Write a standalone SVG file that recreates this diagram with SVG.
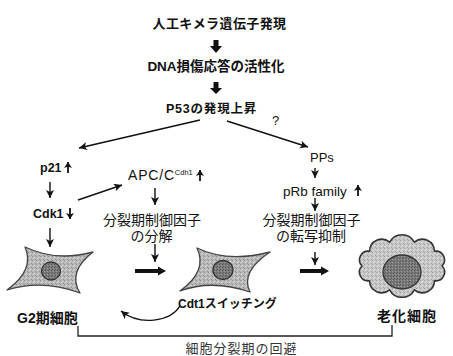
<svg xmlns="http://www.w3.org/2000/svg" width="453" height="356" viewBox="0 0 453 356">
  <style>
    text { font-family: "Liberation Sans", "Noto Sans CJK JP", sans-serif; fill: #111; }
    .b { font-weight: bold; }
    .jp { font-size: 14px; }
    .thin { fill: none; stroke: #111; stroke-width: 1.4; marker-end: url(#head); }
    .mini { fill: none; stroke: #111; stroke-width: 1.8; marker-end: url(#miniHead); }
    .fat { fill: #111; }
    .cell { fill: url(#grain); stroke: #444; stroke-width: 1.3; stroke-linejoin: round; }
    .cloud { fill: url(#grainLight); stroke: #333; stroke-width: 1.6; stroke-linejoin: round; }
    .nuc { fill: url(#grainDark); stroke: #333; stroke-width: 1.3; }
  </style>
  <defs>
    <marker id="head" markerUnits="userSpaceOnUse" markerWidth="10" markerHeight="10" refX="8" refY="4" orient="auto">
      <path d="M0,0 L8,4 L0,8 L2,4 z" fill="#111"/>
    </marker>
    <marker id="miniHead" markerUnits="userSpaceOnUse" markerWidth="10" markerHeight="10" refX="6" refY="4" orient="auto">
      <path d="M0,0 L6,4 L0,8 L1.5,4 z" fill="#111"/>
    </marker>
    <pattern id="grain" width="4" height="4" patternUnits="userSpaceOnUse">
      <rect width="4" height="4" fill="#b8b8b8"/>
      <rect x="0" y="0" width="1" height="1" fill="#909090"/>
      <rect x="2" y="1" width="1" height="1" fill="#d8d8d8"/>
      <rect x="1" y="2" width="1" height="1" fill="#d2d2d2"/>
      <rect x="3" y="3" width="1" height="1" fill="#949494"/>
    </pattern>
    <pattern id="grainLight" width="4" height="4" patternUnits="userSpaceOnUse">
      <rect width="4" height="4" fill="#c6c6c6"/>
      <rect x="0" y="0" width="1" height="1" fill="#a0a0a0"/>
      <rect x="2" y="1" width="1" height="1" fill="#e2e2e2"/>
      <rect x="1" y="2" width="1" height="1" fill="#dcdcdc"/>
      <rect x="3" y="3" width="1" height="1" fill="#a6a6a6"/>
    </pattern>
    <pattern id="grainDark" width="3" height="3" patternUnits="userSpaceOnUse">
      <rect width="3" height="3" fill="#7a7a7a"/>
      <rect x="0" y="0" width="1" height="1" fill="#5a5a5a"/>
      <rect x="2" y="1" width="1" height="1" fill="#9a9a9a"/>
      <rect x="1" y="2" width="1" height="1" fill="#606060"/>
    </pattern>
  </defs>

  <!-- top cascade -->
  <g id="n-chimera">
    <text class="b" x="219.5" y="28" font-size="13" letter-spacing="0.4" text-anchor="middle">人工キメラ遺伝子発現</text>
  </g>
  <g id="n-dna">
    <text class="b" x="216" y="71" font-size="13.5" text-anchor="middle">DNA損傷応答の活性化</text>
  </g>
  <g id="n-p53">
    <text class="b" x="211.5" y="113" font-size="12.5" letter-spacing="0.8" text-anchor="middle">P53の発現上昇</text>
  </g>
  <g id="n-question">
    <text x="272" y="125" font-size="13">?</text>
  </g>

  <!-- left branch -->
  <g id="n-p21">
    <text class="b" x="40" y="172" font-size="12.5">p21</text>
  </g>
  <g id="n-cdk1">
    <text class="b" x="33" y="218" font-size="12.5">Cdk1</text>
  </g>
  <g id="n-apc">
    <text x="128" y="180" font-size="14" letter-spacing="0.8">APC/C<tspan font-size="7.5" letter-spacing="0" dy="-5">Cdh1</tspan></text>
  </g>
  <g id="n-degrade">
    <text class="jp" x="152" y="225" text-anchor="middle">分裂期制御因子</text>
    <text class="jp" x="151.5" y="241" text-anchor="middle">の分解</text>
  </g>

  <!-- right branch -->
  <g id="n-pps">
    <text x="310" y="162" font-size="13">PPs</text>
  </g>
  <g id="n-prb">
    <text x="283" y="196" font-size="13.5">pRb family</text>
  </g>
  <g id="n-repress">
    <text class="jp" x="311.5" y="225" text-anchor="middle">分裂期制御因子</text>
    <text class="jp" x="311" y="241" text-anchor="middle">の転写抑制</text>
  </g>

  <!-- cells -->
  <g id="n-g2cell">
    <path class="cell" d="M25,247 Q56,262 93,252 Q67,272 80,293 Q42,279 7,290 Q35,270 25,247 z"/>
    <ellipse class="nuc" cx="51" cy="271" rx="9.5" ry="9"/>
    <text class="b" x="17" y="323" font-size="14">G2期細胞</text>
  </g>
  <g id="n-midcell">
    <path class="cell" d="M197,248 Q228,263 270,252 Q240,272 250,292 Q212,279 180,291 Q208,271 197,248 z"/>
    <ellipse class="nuc" cx="223" cy="270" rx="10" ry="9.5"/>
    <text class="b" x="178" y="308" font-size="12">Cdt1スイッチング</text>
  </g>
  <g id="n-senescent">
    <path class="cloud" d="M442,266 A8.7,8.7 0 0 1 434.4,280.7 A12.1,12.1 0 0 1 414.4,289.8 A14,14 0 0 1 389.6,289.8 A12.1,12.1 0 0 1 369.6,280.7 A8.7,8.7 0 0 1 362,266 A8.7,8.7 0 0 1 369.6,251.3 A12.1,12.1 0 0 1 389.6,242.2 A14,14 0 0 1 414.4,242.2 A12.1,12.1 0 0 1 434.4,251.3 A8.7,8.7 0 0 1 442,266 z"/>
    <ellipse class="nuc" cx="402" cy="272" rx="19" ry="17"/>
    <text class="b" x="377" y="321" font-size="14" letter-spacing="1">老化細胞</text>
  </g>
  <g id="n-avoid">
    <text x="241.5" y="353" font-size="13" letter-spacing="1" text-anchor="middle" style="fill:#333">細胞分裂期の回避</text>
  </g>

  <!-- connectors -->
  <g id="connectors">
    <!-- block arrows -->
    <path class="fat" d="M213.5,40 H218.5 V46 H222 L216,53 L210,46 H213.5 z"/>
    <path class="fat" d="M213.5,82 H218.5 V88 H222 L216,94 L210,88 H213.5 z"/>
    <path class="fat" d="M135,269 H158 V266.5 L166,271 L158,275.5 V273 H135 z"/>
    <path class="fat" d="M300,269 H321 V266.5 L329,271 L321,275.5 V273 H300 z"/>

    <!-- p53 branches -->
    <path class="thin" d="M200,120 L79,148"/>
    <path class="thin" d="M227,121 L308,147"/>

    <!-- left branch arrows -->
    <path class="mini" d="M68,173 V162"/>
    <path class="thin" d="M50,182 V198"/>
    <path class="mini" d="M70,208 V219"/>
    <path class="thin" d="M50,228 V247"/>
    <path class="thin" d="M78,200 L122,185"/>
    <path class="mini" d="M200,181 V170"/>
    <path class="thin" d="M155,188 V205"/>
    <path class="thin" d="M155,244 V262"/>

    <!-- right branch arrows -->
    <path class="thin" d="M315,168 V178"/>
    <path class="mini" d="M358,196 V185"/>
    <path class="thin" d="M315,198 V211"/>
    <path class="thin" d="M315,252 V265"/>

    <!-- Cdt1 return arrow -->
    <path class="thin" stroke-width="1.6" d="M180,306 C170,322 140,326 121,311"/>

    <!-- bracket under the cells -->
    <path d="M78,326 V336 H392 V325" fill="none" stroke="#222" stroke-width="1.3"/>
  </g>
</svg>
